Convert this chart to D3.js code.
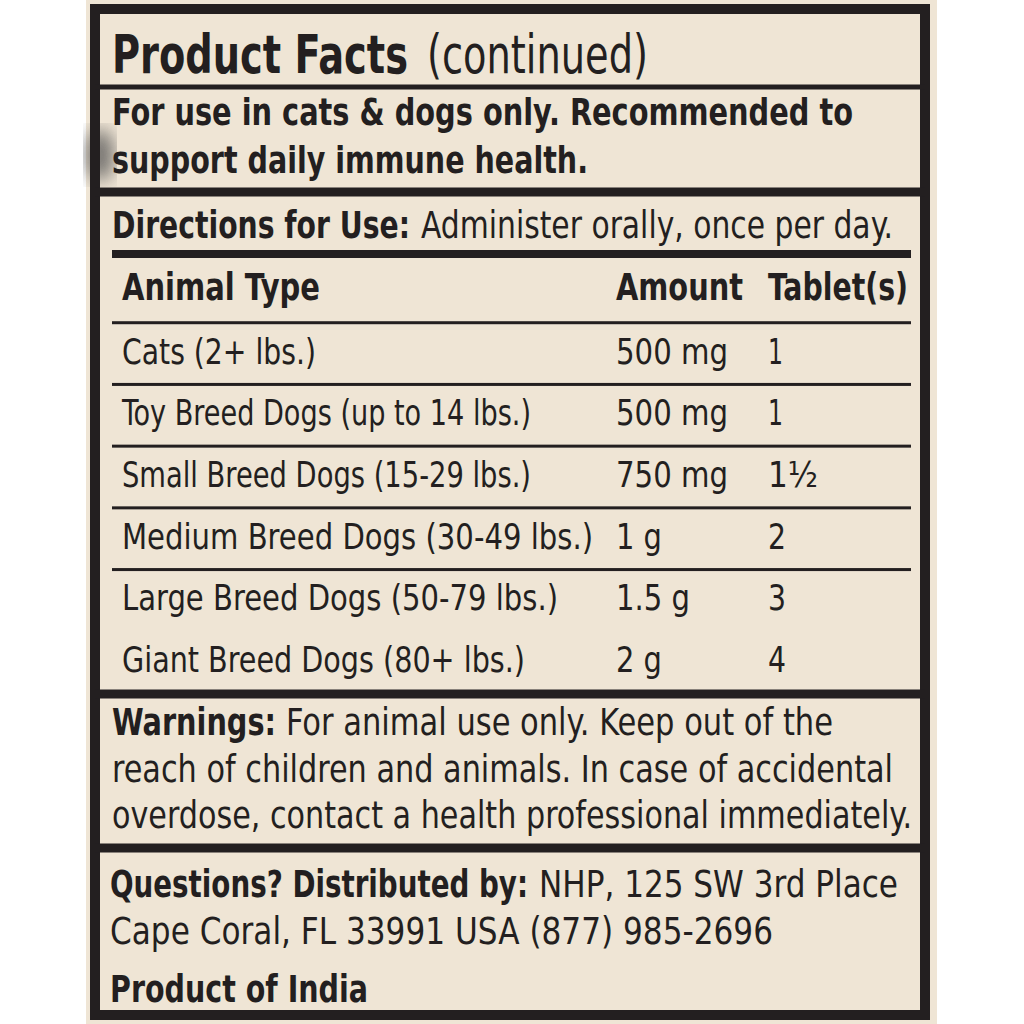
<!DOCTYPE html>
<html><head><meta charset="utf-8">
<script src="https://cdn.jsdelivr.net/npm/d3@7"></script>
<style>body{margin:0;background:#fff}</style>
</head><body>
<div id="chart"></div>
<script>
// table data
const animals = ['Cats (2+ lbs.)', 'Toy Breed Dogs (up to 14 lbs.)', 'Small Breed Dogs (15-29 lbs.)',
  'Medium Breed Dogs (30-49 lbs.)', 'Large Breed Dogs (50-79 lbs.)', 'Giant Breed Dogs (80+ lbs.)'];
const amounts = ['500 mg', '500 mg', '750 mg', '1 g', '1.5 g', '2 g'];
const tablets = ['1', '1', '1\u00bd', '2', '3', '4'];
const headers = ['Animal Type', 'Amount', 'Tablet(s)'];

let ink = '#231f20', paper = '#efe5d5';
let font = '"Liberation Sans Narrow", "DejaVu Sans Condensed", Arial, sans-serif';

let svg = d3.select('#chart').append('svg').attr('width', 1024).attr('height', 1024);
let defs = svg.append('defs');
defs.append('filter').attr('id', 'blur').append('feGaussianBlur').attr('stdDeviation', 9);

svg.append('rect').attr('x', 86).attr('y', 0).attr('width', 851).attr('height', 1024).attr('fill', paper);
svg.append('ellipse').attr('cx', 100).attr('cy', 155).attr('rx', 14).attr('ry', 26)
   .attr('fill', '#555').attr('opacity', 0.8).attr('filter', 'url(#blur)');
svg.append('rect').attr('x', 95).attr('y', 9).attr('width', 830).attr('height', 1006)
   .attr('fill', 'none').attr('stroke', ink).attr('stroke-width', 10);

function rule(y, w, x1, x2) {
    svg.append('rect').attr('x', x1 || 95).attr('y', y - w / 2)
       .attr('width', (x2 || 925) - (x1 || 95)).attr('height', w).attr('fill', ink);
}
function txt(x, y, s, x2, bold, size) {
    svg.append('text').attr('x', x).attr('y', y).text(s)
       .attr('font-family', font).attr('font-size', size || 37)
       .attr('font-weight', bold ? 700 : 400).attr('fill', ink)
       .attr('textLength', x2 - x).attr('lengthAdjust', 'spacingAndGlyphs');
}

rule(87, 5);
rule(192, 9);
rule(254, 8, 112, 911);
rule(694, 9);
rule(848, 9);

txt(112, 73, 'Product Facts', 408, true, 54);
txt(427, 73, '(continued)', 648, false, 54);
txt(112, 125, 'For use in cats & dogs only. Recommended to', 853, true, 38);
txt(112, 173, 'support daily immune health.', 588, true, 38);
txt(112, 238, 'Directions for Use:', 410, true, 37);
txt(421, 238, 'Administer orally, once per day.', 893, false, 37);

// table
let cols = [122, 616, 768];
let y = d3.scaleBand().domain(d3.range(animals.length + 1)).range([258, 690]);
let hdrEnd = [320, 743, 908];
headers.forEach((h, i) => txt(cols[i], 300, h, hdrEnd[i], true, 37));
d3.range(1, animals.length).forEach(i => rule(y(i) + 3, 3, 112, 911));
let aEnd = [316, 531, 531, 593, 558, 525];
let amEnd = {'500 mg': 728, '750 mg': 728, '1 g': 662, '1.5 g': 690, '2 g': 662};
let tEnd = {'1': 783, '1\u00bd': 818, '2': 786, '3': 786, '4': 786};
animals.forEach((a, i) => {
    let by = y(i + 1) + y.bandwidth() / 2 + 13;
    txt(cols[0], by, a, aEnd[i], false, 36);
    txt(cols[1], by, amounts[i], amEnd[amounts[i]], false, 36);
    txt(cols[2], by, tablets[i], tEnd[tablets[i]], false, 36);
});

txt(112, 735, 'Warnings:', 276, true, 37);
txt(286, 735, 'For animal use only. Keep out of the', 833, false, 37);
txt(112, 782, 'reach of children and animals. In case of accidental', 893, false, 37);
txt(112, 828, 'overdose, contact a health professional immediately.', 912, false, 37);

txt(110, 897, 'Questions? Distributed by:', 528, true, 37);
txt(539, 897, 'NHP, 125 SW 3rd Place', 898, false, 37);
txt(110, 944, 'Cape Coral, FL 33991 USA  (877) 985-2696', 773, false, 37);
txt(110, 1002, 'Product of India', 368, true, 37);
</script>
</body></html>
